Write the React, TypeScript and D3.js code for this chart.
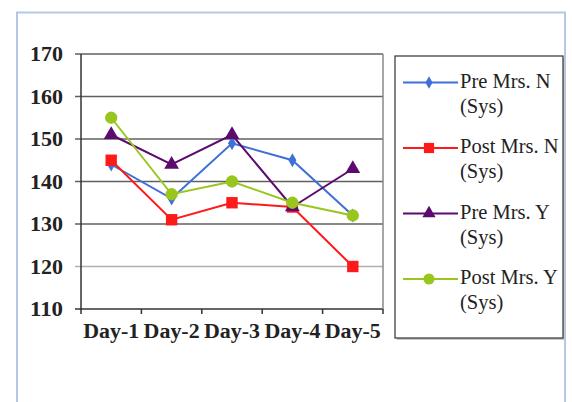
import React from "react";
import * as d3 from "d3";

const categories = ["Day-1", "Day-2", "Day-3", "Day-4", "Day-5"];
const preN = [144, 136, 149, 145, 132];
const postN = [145, 131, 135, 134, 120];
const preY = [151, 144, 151, 134, 143];
const postY = [155, 137, 140, 135, 132];
const yTicks = [110, 120, 130, 140, 150, 160, 170];
const seriesNames = ["Pre Mrs. N", "Post Mrs. N", "Pre Mrs. Y", "Post Mrs. Y"];

const series = [
  { name: seriesNames[0], values: preN, color: "#3f6fd8", shape: d3.symbolDiamond, size: 55 },
  { name: seriesNames[1], values: postN, color: "#ff1a1a", shape: d3.symbolSquare, size: 130 },
  { name: seriesNames[2], values: preY, color: "#5c0a6e", shape: d3.symbolTriangle, size: 95 },
  { name: seriesNames[3], values: postY, color: "#99c61e", shape: d3.symbolCircle, size: 120 },
];

const font = "Liberation Serif, DejaVu Serif, serif";

export default function App() {
  const W = 572, H = 402;
  const left = 81, right = 383, top = 54, bottom = 309;
  const x = d3.scaleBand().domain(categories).range([left, right]);
  const y = d3.scaleLinear().domain([110, 170]).range([bottom, top]);
  const line = d3.line<number>()
    .x((_, i) => x(categories[i])! + x.bandwidth() / 2)
    .y((d) => y(d));
  const lx = 395, ly = 56, lw = 168, lh = 282;
  const bounds = [...categories.map((c) => x(c)!), right];

  return (
    <div style={{ position: "absolute", left: 0, top: 0 }}>
      <svg width={W} height={H} style={{ display: "block", fontFamily: font }}>
        <rect x={0} y={0} width={W} height={H} fill="#fff" />
        <path d={`M17,${H} L17,12.5 L565,12.5 L565,${H}`} fill="none" stroke="#b4c7e7" strokeWidth={2} />
        {yTicks.map((t) => (
          <line key={t} x1={left - 6} x2={right} y1={y(t)} y2={y(t)}
            stroke={t === 120 ? "#b0b0b0" : t === 110 ? "#333" : "#606060"} strokeWidth={1.5} />
        ))}
        <line x1={right} x2={right} y1={top} y2={bottom} stroke="#888" strokeWidth={1.5} />
        <line x1={left} x2={left} y1={top} y2={bottom + 1} stroke="#333" strokeWidth={1.5} />
        {bounds.map((b, i) => (
          <line key={i} x1={b} x2={b} y1={bottom} y2={bottom + 5} stroke="#333" strokeWidth={1.5} />
        ))}
        {yTicks.map((t) => (
          <text key={t} x={63} y={y(t)} dy="0.35em" textAnchor="end"
            style={{ fontFamily: font, fontWeight: "bold", fontSize: 20 }}
            textLength={33} lengthAdjust="spacingAndGlyphs" fill="#222">{t}</text>
        ))}
        {categories.map((c) => (
          <text key={c} x={x(c)! + x.bandwidth() / 2} y={338} textAnchor="middle"
            style={{ fontFamily: font, fontWeight: "bold", fontSize: 20 }}
            textLength={56} lengthAdjust="spacingAndGlyphs" fill="#222">{c}</text>
        ))}
        {series.map((s) => (
          <g key={s.name}>
            <path d={line(s.values)!} fill="none" stroke={s.color} strokeWidth={2} />
            {s.values.map((v, i) => (
              <path key={i}
                transform={`translate(${x(categories[i])! + x.bandwidth() / 2},${y(v)})`}
                d={d3.symbol().type(s.shape).size(s.size)()!} fill={s.color} />
            ))}
          </g>
        ))}
        <rect x={lx + 2} y={ly + 2} width={lw} height={lh} fill="#c8c8c8" />
        <rect x={lx} y={ly} width={lw} height={lh} fill="#fff" stroke="#333" strokeWidth={1.2} />
        {series.map((s, i) => {
          const cy = 82.5 + i * 65.5;
          return (
            <g key={s.name}>
              <line x1={403} x2={458} y1={cy} y2={cy} stroke={s.color} strokeWidth={2} />
              <path transform={`translate(429,${cy})`}
                d={d3.symbol().type(s.shape).size(s.size * 0.8)()!} fill={s.color} />
              <text x={460} y={cy + 5} style={{ fontFamily: font, fontSize: 20.5 }} fill="#222">{s.name}</text>
              <text x={460} y={cy + 30} style={{ fontFamily: font, fontSize: 20.5 }} fill="#222">(Sys)</text>
            </g>
          );
        })}
      </svg>
    </div>
  );
}
